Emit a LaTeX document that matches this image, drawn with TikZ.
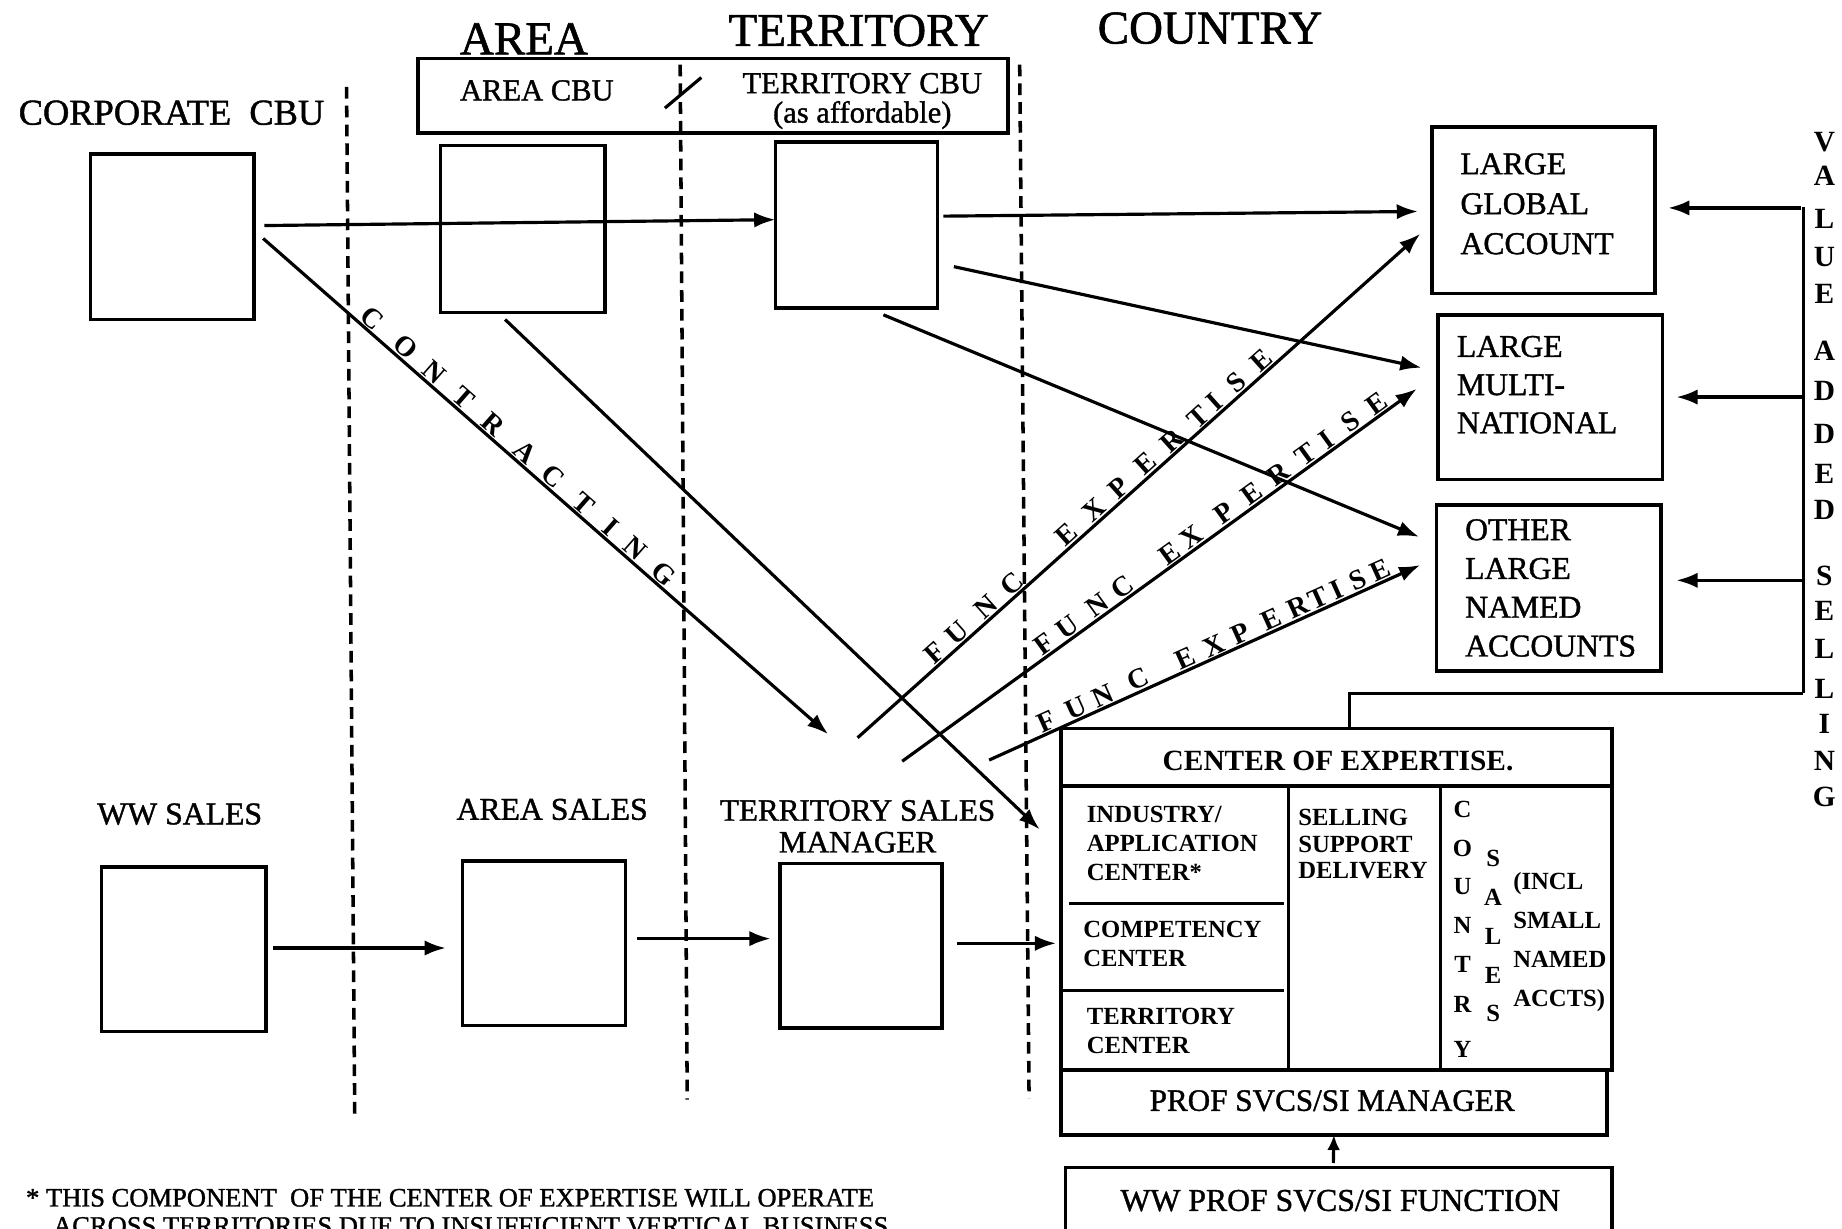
\documentclass[tikz,border=0pt]{standalone}
\usepackage{fontspec}
\setmainfont{Liberation Serif}[UprightFeatures={FakeBold=1.2}]
\usetikzlibrary{arrows.meta,calc}

\begin{document}
\begin{tikzpicture}[x=1pt,y=-1pt,
  box/.style={draw, line width=3pt, inner sep=0pt, outer sep=0pt},
  conn/.style={line width=2.7pt},
  arr/.style={conn, -{Latex[length=18pt,width=13pt]}},
  divider/.style={line width=3pt, dash pattern=on 10pt off 6pt},
  head/.style={font=\fontsize{40}{44}\selectfont, inner sep=0pt},
  lbl/.style={font=\fontsize{27}{34}\selectfont, inner sep=0pt},
  cell/.style={font=\fontsize{21}{25}\selectfont\bfseries, inner sep=0pt, align=left},
  ltr/.style={font=\fontsize{24}{24}\selectfont\bfseries, inner sep=1pt},
  vltr/.style={font=\fontsize{25}{25}\selectfont\bfseries, inner sep=0pt},
  cltr/.style={font=\fontsize{21}{21}\selectfont\bfseries, inner sep=0pt},
]
\useasboundingbox (0,0) rectangle (1568,1046);
\fill[white] (0,0) rectangle (1568,1046);

% column headings
\node[head] (hArea) at (446,33) {AREA};
\node[head] (hTerr) at (731,26) {TERRITORY};
\node[head] (hCtry) at (1030,24) {COUNTRY};
\node[font=\fontsize{31}{34}\selectfont, inner sep=0pt] (hCorp) at (146,96) {CORPORATE\ \ CBU};

% organisational dividers
\draw[divider] (295,74) -- (302,952);
\draw[divider] (579,55) -- (585,936);
\draw[divider] (868,55) -- (876,935);

% area / territory CBU banner
\node[box, minimum width=502pt, minimum height=63pt] (banner) at (607,81.5) {};
\node[font=\fontsize{26}{28}\selectfont, inner sep=0pt] at (457,77) {AREA CBU};
\node[font=\fontsize{26}{25}\selectfont, inner sep=0pt, align=center] at (734,86) {TERRITORY CBU\\(as affordable)};
\draw[conn] (566,92) -- (597,66);

% top row of CBU boxes
\node[box, minimum width=139pt, minimum height=141pt] (corp) at (146.5,201.5) {};
\node[box, minimum width=140pt, minimum height=142pt] (areacbu) at (445,195) {};
\node[box, minimum width=138pt, minimum height=141pt] (terrcbu) at (729,191.5) {};

% account boxes
\node[box, minimum width=190pt, minimum height=142pt] (lga) at (1314,179) {};
\node[lbl, align=left, anchor=west] at (1243,173.5) {LARGE\\GLOBAL\\ACCOUNT};
\node[box, minimum width=191pt, minimum height=140pt] (lmn) at (1319.5,338) {};
\node[lbl, align=left, anchor=west, font=\fontsize{27}{32.5}\selectfont] at (1240,327.5) {LARGE\\MULTI-\\NATIONAL};
\node[box, minimum width=191pt, minimum height=141pt] (olna) at (1318.5,500.5) {};
\node[lbl, align=left, anchor=west, font=\fontsize{27}{33}\selectfont] at (1247,500.5) {OTHER\\LARGE\\NAMED\\ACCOUNTS};

% bottom row of sales boxes
\node[lbl] at (153,693) {WW SALES};
\node[box, minimum width=140pt, minimum height=140pt] (wws) at (156.5,808) {};
\node[lbl] at (470,689) {AREA SALES};
\node[box, minimum width=139pt, minimum height=140pt] (areas) at (463,803) {};
\node[lbl, align=center, font=\fontsize{26.5}{27}\selectfont] at (730,703.5) {TERRITORY SALES\\MANAGER};
\node[box, minimum width=138pt, minimum height=140pt] (tsm) at (733,805) {};

% center of expertise
\node[box, minimum width=469pt, minimum height=291pt] (coe) at (1137.5,765.5) {};
\draw[line width=2.8pt] (903,669) -- (1372,669);
\draw[line width=2.8pt] (1097,669) -- (1097,911);
\draw[line width=2.8pt] (1226,669) -- (1226,911);
\draw[line width=2.6pt] (910,769) -- (1093,769);
\draw[line width=2.6pt] (903,843) -- (1093,843);
\node[font=\fontsize{25}{25}\selectfont\bfseries, inner sep=0pt] at (1139,648) {CENTER OF EXPERTISE.};
\node[cell, anchor=west] at (925,718) {INDUSTRY/\\APPLICATION\\CENTER*};
\node[cell, anchor=west] at (922,803.5) {COMPETENCY\\CENTER};
\node[cell, anchor=west] at (925,877.5) {TERRITORY\\CENTER};
\node[cell, anchor=west, font=\fontsize{21}{22.5}\selectfont\bfseries] at (1105,718.5) {SELLING\\SUPPORT\\DELIVERY};
\node[cell, anchor=west, font=\fontsize{21}{33.3}\selectfont\bfseries] at (1288,802) {(INCL\\SMALL\\NAMED\\ACCTS)};
\foreach \c/\yy in {C/689,O/722,U/755,N/788,T/821,R/855,Y/893}
  \node[cltr] at (1245,\yy) {\c};
\foreach \c/\yy in {S/731,A/764,L/797,E/830,S/863}
  \node[cltr] at (1271,\yy) {\c};

% professional services
\node[box, minimum width=465pt, minimum height=55pt] (prof) at (1135.5,938.5) {};
\node[font=\fontsize{26.5}{27}\selectfont, inner sep=0pt] at (1134,937) {PROF SVCS/SI MANAGER};
\node[box, minimum width=465pt, minimum height=80pt] (wwprof) at (1139.5,1034) {};
\node[font=\fontsize{27}{27}\selectfont, inner sep=0pt] at (1141,1022) {WW PROF SVCS/SI FUNCTION};
\draw[arr, -{Latex[length=13pt,width=11pt]}] ($(wwprof.north)+(-4.5,-4)$) -- (prof.south);

% value added selling bar
\coordinate (vbT) at (1535,176);
\coordinate (vbB) at (1535,590);
\draw[conn] (vbT) -- (vbB);
\draw[arr] (1533,177) -- ($(lga.east |- 0,177)+(11,0)$);
\draw[arr] (1535,338) -- ($(lmn.east)+(12,0)$);
\draw[arr] (1535,494) -- ($(olna.east |- 0,494)+(13,0)$);
\draw[conn] (vbB) -| (coe.north -| 1149,0);
\foreach \c/\yy in {V/121,A/150,L/186,U/219,E/250,A/299,D/333,D/369,E/403,D/434,S/490,E/520,L/552,L/586,I/616,N/648,G/678}
  \node[vltr] at (1553,\yy) {\c};

% top row flows
\draw[arr] ($(corp.east)+(9,-9.5)$) -- ($(terrcbu.west)+(0,-4.5)$);
\draw[arr] ($(terrcbu.east)+(5,-7.5)$) -- ($(lga.west)+(-12,1)$);
\draw[arr] ($(terrcbu.east)+(14,35.5)$) -- ($(lmn.west)+(-14,-25)$);
\draw[arr] ($(terrcbu.south)+(23,6)$) -- ($(olna.west)+(-15,-43.5)$);
\draw[arr] ($(areacbu.south)+(-15,6)$) -- ($(coe.west)+(-18,-59.5)$);

% contracting
\draw[arr] ($(corp.east)+(8,1.5)$) -- ($(tsm.north)+(-28,-110)$)
  node[pos=0.179, sloped, above, ltr] {C}
  node[pos=0.238, sloped, above, ltr] {O}
  node[pos=0.289, sloped, above, ltr] {N}
  node[pos=0.340, sloped, above, ltr] {T}
  node[pos=0.393, sloped, above, ltr] {R}
  node[pos=0.449, sloped, above, ltr] {A}
  node[pos=0.499, sloped, above, ltr] {C}
  node[pos=0.553, sloped, above, ltr] {T}
  node[pos=0.601, sloped, above, ltr] {I}
  node[pos=0.644, sloped, above, ltr] {N}
  node[pos=0.694, sloped, above, ltr] {G};

% functional expertise
\draw[arr] ($(tsm.north)+(-3,-107)$) -- ($(lga.south west)+(-10,-51)$)
  node[pos=0.151, sloped, above, ltr] {F}
  node[pos=0.191, sloped, above, ltr] {U}
  node[pos=0.242, sloped, above, ltr] {N}
  node[pos=0.288, sloped, above, ltr] {C}
  node[pos=0.386, sloped, above, ltr] {E}
  node[pos=0.435, sloped, above, ltr] {X}
  node[pos=0.478, sloped, above, ltr] {P}
  node[pos=0.526, sloped, above, ltr] {E}
  node[pos=0.572, sloped, above, ltr] {R}
  node[pos=0.619, sloped, above, ltr] {T}
  node[pos=0.649, sloped, above, ltr] {I}
  node[pos=0.687, sloped, above, ltr] {S}
  node[pos=0.732, sloped, above, ltr] {E};
\draw[arr] ($(tsm.north)+(35,-87)$) -- ($(lmn.west)+(-18,-7)$)
  node[pos=0.290, sloped, above, ltr] {F}
  node[pos=0.334, sloped, above, ltr] {U}
  node[pos=0.392, sloped, above, ltr] {N}
  node[pos=0.441, sloped, above, ltr] {C}
  node[pos=0.533, sloped, above, ltr] {E}
  node[pos=0.576, sloped, above, ltr] {X}
  node[pos=0.640, sloped, above, ltr] {P}
  node[pos=0.692, sloped, above, ltr] {E}
  node[pos=0.745, sloped, above, ltr] {R}
  node[pos=0.798, sloped, above, ltr] {T}
  node[pos=0.838, sloped, above, ltr] {I}
  node[pos=0.885, sloped, above, ltr] {S}
  node[pos=0.935, sloped, above, ltr] {E};
\draw[arr] ($(tsm.north)+(109,-88)$) -- ($(olna.west)+(-14,-19.5)$)
  node[pos=0.144, sloped, above, ltr] {F}
  node[pos=0.212, sloped, above, ltr] {U}
  node[pos=0.275, sloped, above, ltr] {N}
  node[pos=0.358, sloped, above, ltr] {C}
  node[pos=0.467, sloped, above, ltr] {E}
  node[pos=0.532, sloped, above, ltr] {X}
  node[pos=0.594, sloped, above, ltr] {P}
  node[pos=0.666, sloped, above, ltr] {E}
  node[pos=0.727, sloped, above, ltr] {R}
  node[pos=0.775, sloped, above, ltr] {T}
  node[pos=0.817, sloped, above, ltr] {I}
  node[pos=0.867, sloped, above, ltr] {S}
  node[pos=0.918, sloped, above, ltr] {E};

% bottom row flows
\draw[arr] ($(wws.east)+(6,-1)$) -- ($(areas.west)+(-14,4)$);
\draw[arr] ($(areas.east)+(9.5,-4)$) -- ($(tsm.west)+(-8,-6)$);
\draw[arr] ($(tsm.east)+(13,-2)$) -- ($(coe.west)+(-4,37.5)$);

% footnote
\node[anchor=base west, font=\fontsize{22.6}{25}\selectfont, inner sep=0pt] at (22,1027) {* THIS COMPONENT\ \ OF THE CENTER OF EXPERTISE WILL OPERATE};
\node[anchor=base west, font=\fontsize{22.6}{25}\selectfont, inner sep=0pt] at (45,1051) {ACROSS TERRITORIES DUE TO INSUFFICIENT VERTICAL BUSINESS};
\end{tikzpicture}
\end{document}
